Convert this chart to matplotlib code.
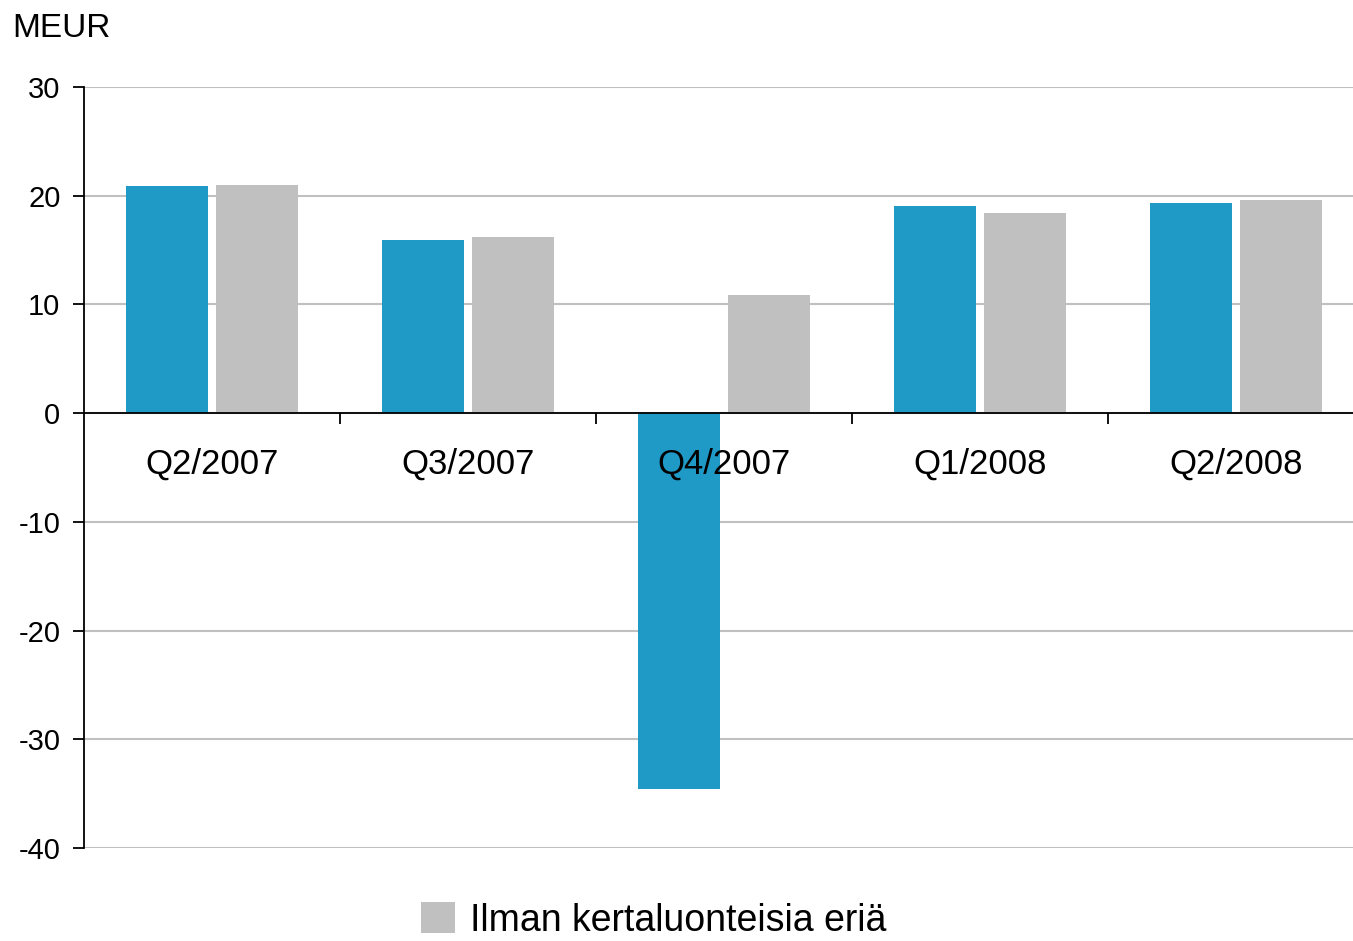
import matplotlib.pyplot as plt
import numpy as np

plt.rcParams['font.family'] = ['Liberation Sans', 'DejaVu Sans']
plt.rcParams['axes.unicode_minus'] = False

# quarters and the two series (MEUR)
quarters = ['Q2/2007', 'Q3/2007', 'Q4/2007', 'Q1/2008', 'Q2/2008']
reported = [20.9, 15.9, -34.6, 19.1, 19.3]
excl_items = [21.0, 16.2, 10.9, 18.4, 19.6]

blue = '#1f99c6'
gray = '#c0c0c0'

fig = plt.figure(figsize=(13.53, 9.41), dpi=100)
# plot area runs a little past the right edge of the picture
ax = fig.add_axes([0.0621, 0.0988, 0.946, 0.8087])

x = np.arange(len(quarters))
w = 0.32
off = 0.177
ax.bar(x - off, reported, w, color=blue, zorder=3)
ax.bar(x + off, excl_items, w, color=gray, zorder=3,
       label='Ilman kertaluonteisia eriä')

ax.set_xlim(-0.5, len(quarters) - 0.5)
ax.set_ylim(-40, 30)
ax.set_yticks(range(-40, 31, 10))
ax.yaxis.grid(True, color=gray, linewidth=1.5, zorder=0)
ax.set_axisbelow(True)

for s in ['top', 'right']:
    ax.spines[s].set_visible(False)
ax.spines['bottom'].set_position(('data', 0))
ax.spines['bottom'].set_linewidth(1.3)
ax.spines['bottom'].set_zorder(5)
ax.spines['left'].set_linewidth(1.3)
ax.spines['left'].set_bounds(-40, 30)

# labels at category centres, tick marks between categories
ax.set_xticks(x)
ax.set_xticklabels(quarters, fontsize=25)
ax.tick_params(axis='x', which='major', length=0, pad=25)
ax.set_xticks(np.arange(0.5, len(quarters) - 1, 1.0), minor=True)
ax.tick_params(axis='x', which='minor', length=8, width=1.3, direction='out')
ax.tick_params(axis='y', length=8, width=1.3, labelsize=21, pad=9)
ax.xaxis.set_zorder(5)

fig.text(0.009, 0.97, 'MEUR', fontsize=24, va='center', ha='left')

leg = fig.legend(loc='center', bbox_to_anchor=(0.483, 0.022), frameon=False,
                 fontsize=27, handlelength=0.9, handleheight=0.9,
                 handletextpad=0.4, borderaxespad=0)

fig.savefig('out.png', dpi=100)
